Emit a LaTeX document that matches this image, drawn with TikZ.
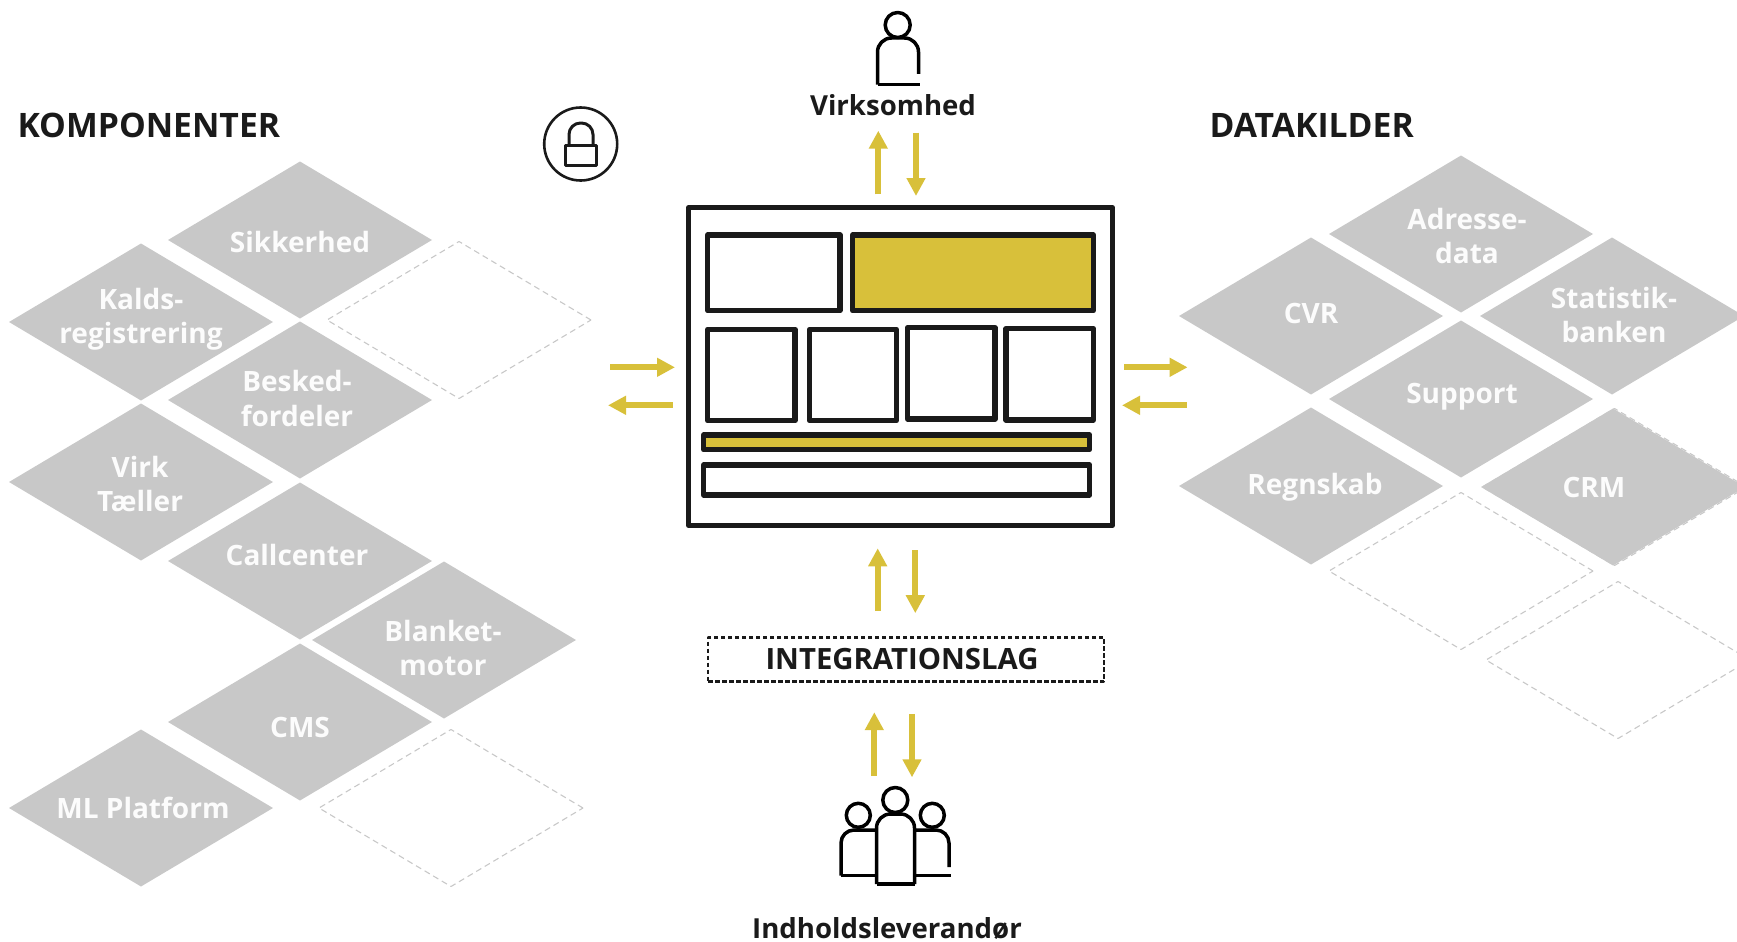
\documentclass[tikz,border=0pt]{standalone}
\usepackage{fontspec}
\setmainfont{Open Sans}
\usetikzlibrary{arrows.meta,shapes.geometric}
\definecolor{tilegray}{HTML}{C8C8C8}
\definecolor{tiletext}{HTML}{FCFCFC}
\definecolor{ink}{HTML}{1A1A1A}
\definecolor{gold}{HTML}{D8C03A}
\begin{document}
\begin{tikzpicture}[line join=round,>={Triangle[width=18pt,length=18pt]},x=1pt,y=-1pt,
    tile/.style={shape=diamond,minimum width=264pt,minimum height=157pt,inner sep=0pt,outer sep=0pt},
    filledtile/.style={tile,fill=tilegray},
    emptytile/.style={tile,draw=tilegray,line width=1.1pt,dash pattern=on 6pt off 4pt},
    tilelabel/.style={color=tiletext,align=center,font=\fontsize{28}{34.5}\selectfont\bfseries},
    heading/.style={color=ink,font=\fontsize{33.7}{40}\selectfont\bfseries},
    actor/.style={color=ink,font=\fontsize{27.6}{32}\selectfont\bfseries},
    panel/.style={draw=ink,line width=5.3pt,fill=white,minimum width=#1,inner sep=0pt,outer sep=0pt},
    goldpanel/.style={panel=#1,fill=gold},
    flow/.style={->,color=gold,line width=6pt},
    icon/.style={color=black,line width=3.5pt},
    head/.style={shape=circle,draw=black,line width=3.5pt,inner sep=0pt,outer sep=0pt,minimum size=#1}]
    \useasboundingbox (0,0) rectangle (1737,942);
    \node[emptytile] (crmedge) at (1614.5,487) {};
    \foreach \tname/\x/\y/\tx/\ty/\txt in {sikkerhed/300/240/300/242/Sikkerhed,
        kalds/141/322/141/319/{Kalds-\\registrering},
        besked/300/400/297/398.5/{Besked-\\fordeler},
        virk/141/482/140/484/{Virk\\Tæller},
        callcenter/300/561/297/555/Callcenter,
        blanket/444/640/443/648/{Blanket-\\motor},
        cms/300/722/300/727/CMS,
        mlplatform/141/808/143/808/ML Platform,
        adresse/1461/234/1467/236/{Adresse-\\data},
        cvr/1311/316/1311/313/CVR,
        statistik/1612/316/1614/315/{Statistik-\\banken},
        support/1461/399/1462/397/Support,
        regnskab/1311/486/1315/487/Regnskab,
        crm/1613/487/1594/487/CRM}
    {
    \node[filledtile] (\tname) at (\x,\y) {};
    \node[tilelabel] (\tname-text) at (\tx,\ty) {\txt};
    }
    \foreach \tname/\x/\y in {spareone/459/320,sparetwo/451/808,sparethree/1461/571,sparefour/1618/660}
    \node[emptytile] (\tname) at (\x,\y) {};
    \node[heading,anchor=west] (komponenter) at (14,125) {KOMPONENTER};
    \node[heading,anchor=west] (datakilder) at (1206,125) {DATAKILDER};
    % main window
    \node[panel=423.6pt,minimum height=317.6pt] (mainbox) at (900.5,366.5) {};
    \node[panel=132.3pt,minimum height=75.6pt] (topleft) at (773.9,272.8) {};
    \node[goldpanel=240.6pt,minimum height=75.6pt] (topright) at (973,272.8) {};
    \node[panel=87.4pt,minimum height=91.3pt] (cellone) at (751.4,375) {};
    \node[panel=87pt,minimum height=91.3pt] (celltwo) at (852.9,375) {};
    \node[panel=87.4pt,minimum height=91.3pt] (cellthree) at (951.4,373.4) {};
    \node[panel=87.4pt,minimum height=91.3pt] (cellfour) at (1049.7,374.4) {};
    \node[goldpanel=386pt,minimum height=14.7pt] (goldbar) at (896.7,442.3) {};
    \node[panel=386pt,minimum height=30.1pt] (whitebar) at (896.7,480) {};
    % integration layer and people
    \node[draw=ink,line width=2.2pt,dash pattern=on 4.5pt off 2.5pt,minimum width=396pt,minimum height=44pt,inner sep=0pt,outer sep=0pt,heading,font=\fontsize{29.3}{34}\selectfont\bfseries] (integration) at (906,659.5) {INTEGRATIONSLAG\kern8pt};
    \node[actor] (virksomhed) at (893,105) {Virksomhed};
    \node[actor] (leverandor) at (887,928.4) {Indholdsleverandør};
    \node[head=25pt] (personhead) at (897.7,25) {};
    \draw[icon,rounded corners=14pt] (918.5,74) -- (918.5,38) -- (877.5,38) -- (877.5,84.5);
    \draw[icon] (877.5,84.5) -- (920,84.5);
    \node[head=24pt] (leftmate) at (858.3,815.3) {};
    \node[head=24pt] (rightmate) at (932.3,815.3) {};
    \draw[icon,rounded corners=13pt] (876,830) -- (841,830) -- (841,875.5);
    \draw[icon] (841,875.5) -- (876,875.5);
    \draw[icon,rounded corners=13pt] (915,830) -- (949,830) -- (949,867);
    \draw[icon] (915,875.5) -- (950.7,875.5);
    \draw[icon,fill=white,rounded corners=14pt] (876.5,884) -- (876.5,814) -- (914.5,814) -- (914.5,884);
    \draw[icon] (876.5,884) -- (914.5,884);
    \node[head=25pt,fill=white] (teamhead) at (895.3,800) {};
    % lock
    \node[shape=circle,draw=ink,line width=2.6pt,minimum size=73pt,inner sep=0pt] (lockring) at (580.7,144) {};
    \draw[color=ink,line width=3pt,rounded corners=11.5pt] (569,145) -- (569,123) -- (593,123) -- (593,145);
    \draw[color=ink,line width=3pt] (565,145) rectangle (596.6,165);
    % arrows
    \coordinate (leftside) at (608,386);
    \coordinate (rightside) at (1188,386);
    \draw[flow] ([shift={(-22.2,-13.4)}]mainbox.north) -- ([shift={(-14.7,25.7)}]virksomhed.center);
    \draw[flow] ([shift={(23,27.7)}]virksomhed.center) -- ([shift={(15.5,-11.7)}]mainbox.north);
    \draw[flow] ([shift={(-28.3,-48.3)}]integration.center) -- ([shift={(-22.8,23)}]mainbox.south);
    \draw[flow] ([shift={(14.8,24.7)}]mainbox.south) -- ([shift={(9.3,-46.3)}]integration.center);
    \draw[flow] ([shift={(-21,-24)}]teamhead.center) -- ([shift={(-31.7,52.7)}]integration.center);
    \draw[flow] ([shift={(6,54.3)}]integration.center) -- ([shift={(16.7,-22.7)}]teamhead.center);
    \draw[flow] ([shift={(2,-18.7)}]leftside) -- ([shift={(-13.7,0.8)}]mainbox.west);
    \draw[flow] ([shift={(-16,38.8)}]mainbox.west) -- ([shift={(0,19.3)}]leftside);
    \draw[flow] ([shift={(11.7,0.8)}]mainbox.east) -- ([shift={(-0.4,-18.7)}]rightside);
    \draw[flow] ([shift={(-1.5,19.3)}]rightside) -- ([shift={(9.7,38.8)}]mainbox.east);
    \end{tikzpicture}
\end{document}
